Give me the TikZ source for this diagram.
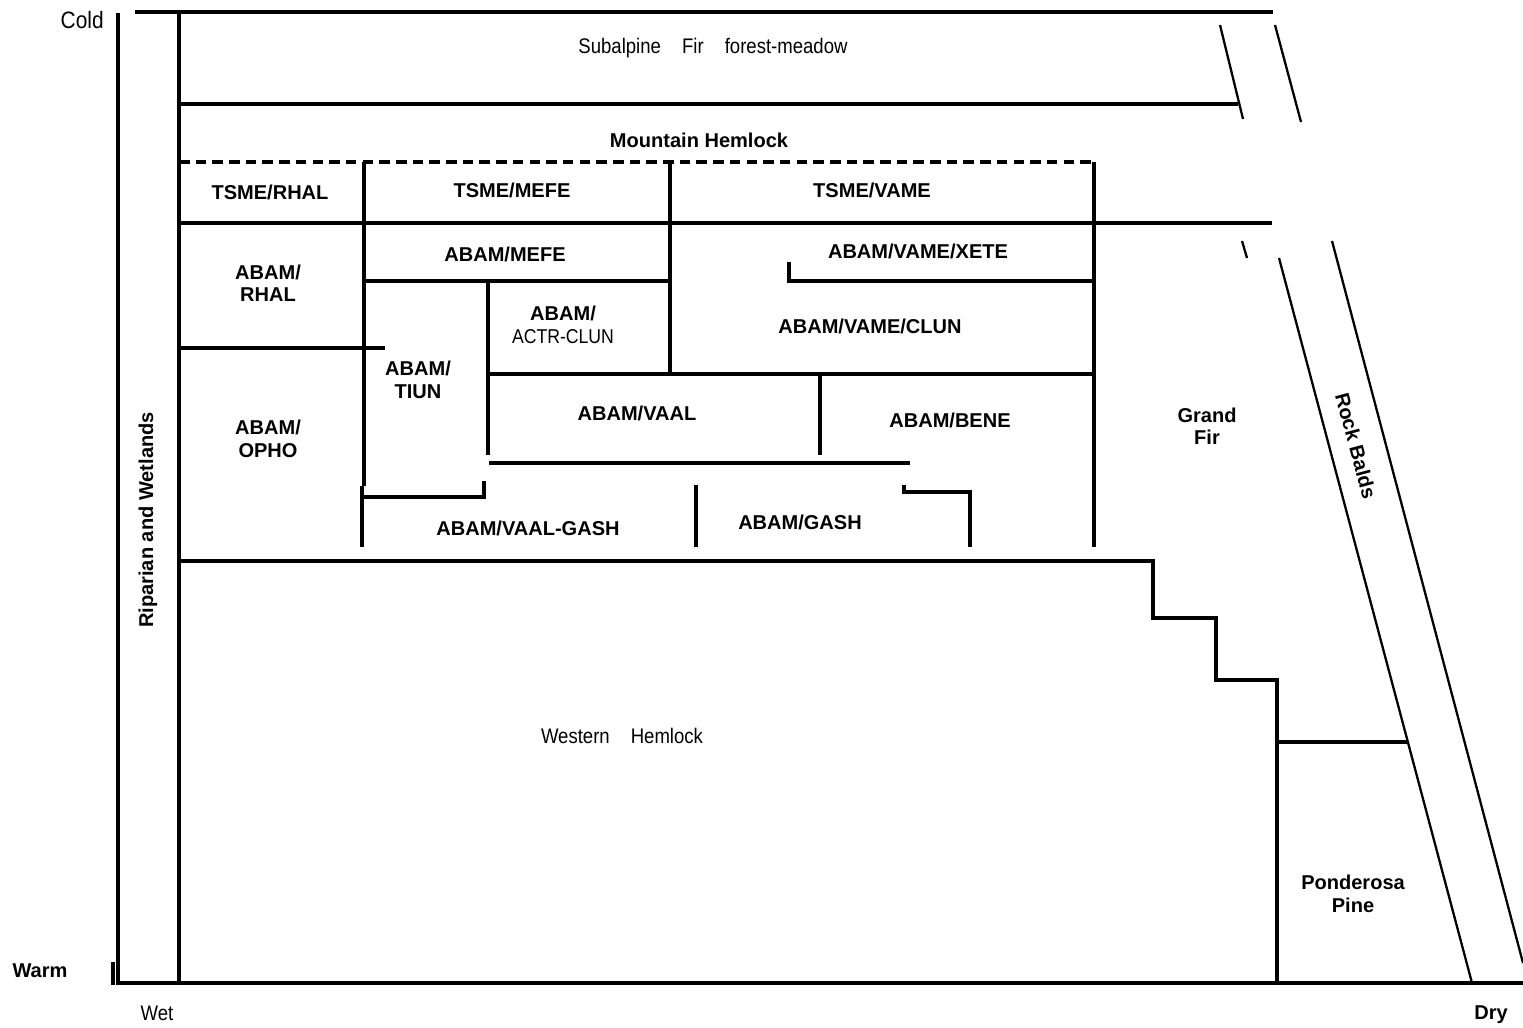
\documentclass[tikz,border=0pt]{standalone}
\usepackage{fontspec}
\setmainfont{Liberation Sans}
\newfontfamily\narrowsans[FakeStretch=0.88]{Liberation Sans}

\tikzset{
  zone/.style={font=\bfseries\fontsize{11.4}{12.8}\selectfont, align=center, inner sep=0pt},
  plainzone/.style={font=\narrowsans\fontsize{12}{13}\selectfont, align=center, inner sep=0pt},
  bound/.style={line width=1.8pt},
  heavy/.style={line width=2.6pt},
  slant/.style={line width=1.3pt},
}

\begin{document}
\begin{tikzpicture}[x=0.02cm, y=-0.02cm]
\useasboundingbox (0,0) rectangle (1523,1027);

% axes and outer frame
\draw[bound] (118,13)--(118,985);
\draw[bound] (113,962)--(113,985);
\draw[bound] (118,983)--(1523,983);
\draw[bound] (135,12)--(1273,12);
\draw[bound] (179,12)--(179,983);

% subalpine and mountain hemlock bands
\draw[heavy] (179,104)--(1238,104);
\draw[line width=2.1pt, dash pattern=on 6pt off 3.5pt] (179,162)--(1094,162);
\draw[heavy] (179,223)--(1272,223);

% long verticals
\draw[bound] (364,162)--(364,486);
\draw[bound] (670,162)--(670,372);
\draw[bound] (1094,162)--(1094,547);

% silver fir blocks
\draw[heavy] (364,281)--(670,281);
\draw[bound] (789,262)--(789,281)--(1094,281);
\draw[bound] (180,348)--(385,348);
\draw[bound] (488,281)--(488,455);
\draw[bound] (487,374)--(1094,374);
\draw[bound] (820,374)--(820,455);
\draw[bound] (489,463)--(910,463);
\draw[bound] (362,486)--(362,547);
\draw[bound] (362,497)--(484,497)--(484,481);
\draw[bound] (696,485)--(696,547);
\draw[bound] (904,485)--(904,492)--(970,492)--(970,547);

% western hemlock steps
\draw[bound] (179,561)--(1153,561)--(1153,618)--(1216,618)--(1216,680)--(1277,680)--(1277,983);
\draw[bound] (1277,742)--(1408,742);

% rock balds strip
\draw[slant] (1220,25)--(1243,119);
\draw[slant] (1275,25)--(1301,122);
\draw[slant] (1242,241)--(1247,258);
\draw[slant] (1279,258)--(1472,983);
\draw[slant] (1332,241)--(1523,963);

% axis labels
\node[plainzone, font=\narrowsans\fontsize{13.5}{14}\selectfont, anchor=east] (cold) at (104,20) {Cold};
\node[zone] (warm) at (40,971) {Warm};
\node[plainzone] (wet) at (157,1013) {Wet};
\node[zone] (dry) at (1491,1015) {Dry};

% zone labels
\node[plainzone] (subalp) at (713,48) {Subalpine\quad Fir\quad forest-meadow};
\node[zone] (mthem) at (699,140) {Mountain Hemlock};
\node[zone] (tsrhal) at (270,192) {TSME/RHAL};
\node[zone] (tsmefe) at (512,190) {TSME/MEFE};
\node[zone] (tsvame) at (872,190) {TSME/VAME};
\node[zone] (abmefe) at (505,254) {ABAM/MEFE};
\node[zone] (abxete) at (918,251) {ABAM/VAME/XETE};
\node[zone] (abrhal) at (268,283) {ABAM/\\RHAL};
\node[zone] (abactr) at (563,325) {ABAM/\\\mdseries\narrowsans ACTR-CLUN};
\node[zone] (abclun) at (870,326) {ABAM/VAME/CLUN};
\node[zone] (abtiun) at (418,380) {ABAM/\\TIUN};
\node[zone] (abopho) at (268,439) {ABAM/\\OPHO};
\node[zone] (abvaal) at (637,413) {ABAM/VAAL};
\node[zone] (abbene) at (950,420) {ABAM/BENE};
\node[zone] (grandfir) at (1207,426) {Grand\\Fir};
\node[zone] (abvg) at (528,528) {ABAM/VAAL-GASH};
\node[zone] (abgash) at (800,522) {ABAM/GASH};
\node[plainzone] (westhem) at (622,736) {Western\quad Hemlock};
\node[zone] (pondpine) at (1353,894) {Ponderosa\\Pine};
\node[zone, rotate=90] (riparian) at (148,520) {Riparian and Wetlands};
\node[zone, rotate=-75] (rockbalds) at (1356,446) {Rock Balds};

\end{tikzpicture}
\end{document}
